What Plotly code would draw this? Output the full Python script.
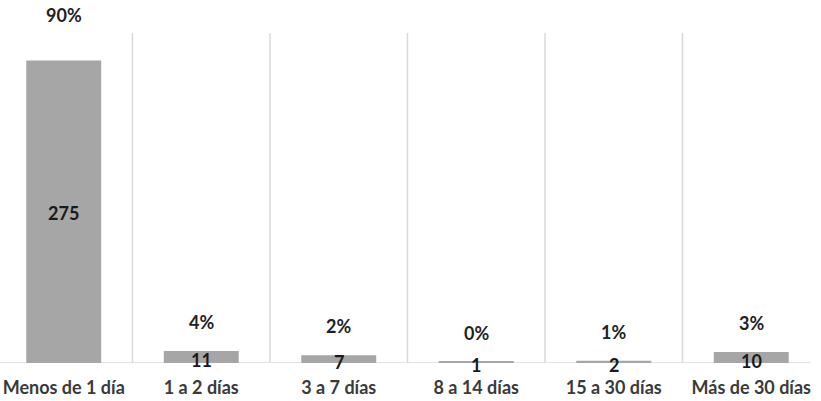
import plotly.graph_objects as go

categories = ["Menos de 1 día", "1 a 2 días", "3 a 7 días", "8 a 14 días", "15 a 30 días", "Más de 30 días"]
counts = [275, 11, 7, 1, 2, 10]
percent_labels = ["90%", "4%", "2%", "0%", "1%", "3%"]

FONT = "Lato"
x_idx = list(range(len(categories)))

fig = go.Figure()
fig.add_trace(go.Bar(
    x=x_idx, y=counts, width=0.545,
    marker=dict(color="#a6a6a6", line=dict(width=0)),
    hoverinfo="skip",
))

annotations = []
for i, (c, p) in enumerate(zip(counts, percent_labels)):
    # count label centred on the bar
    annotations.append(dict(
        x=i, y=c / 2, xref="x", yref="y", text=str(c), showarrow=False,
        font=dict(family=FONT, size=18, color="#1a1a1a", weight="bold"),
        yanchor="middle", yshift=-1 if c > 50 else -3,
    ))
    # share label above the bar
    annotations.append(dict(
        x=i, y=c, xref="x", yref="y", text=p, showarrow=False,
        font=dict(family=FONT, size=18, color="#222222", weight="bold"),
        yanchor="middle", yshift=46 if c > 50 else 29,
    ))

shapes = []
for b in [0.5, 1.5, 2.5, 3.5, 4.5]:
    shapes.append(dict(type="line", xref="x", yref="y", x0=b, x1=b, y0=0, y1=300,
                       line=dict(color="#d9d9d9", width=1.5), layer="below"))
shapes.append(dict(type="line", xref="x", yref="y", x0=-0.5, x1=5.43, y0=0, y1=0,
                   line=dict(color="#d9d9d9", width=1.5), layer="below"))

fig.update_layout(
    width=821, height=401,
    margin=dict(l=0, r=1, t=33, b=38),
    paper_bgcolor="white", plot_bgcolor="white",
    showlegend=False,
    annotations=annotations,
    shapes=shapes,
    xaxis=dict(
        range=[-0.4636, 5.5], tickmode="array", tickvals=x_idx, ticktext=categories,
        showgrid=False, zeroline=False, showline=False, ticks="",
        ticklabelstandoff=12,
        tickfont=dict(family=FONT, size=18, color="#3a3a3a", weight="bold"),
    ),
    yaxis=dict(range=[0, 300], visible=False, showgrid=False, zeroline=False),
)

fig.write_html("out.html")
